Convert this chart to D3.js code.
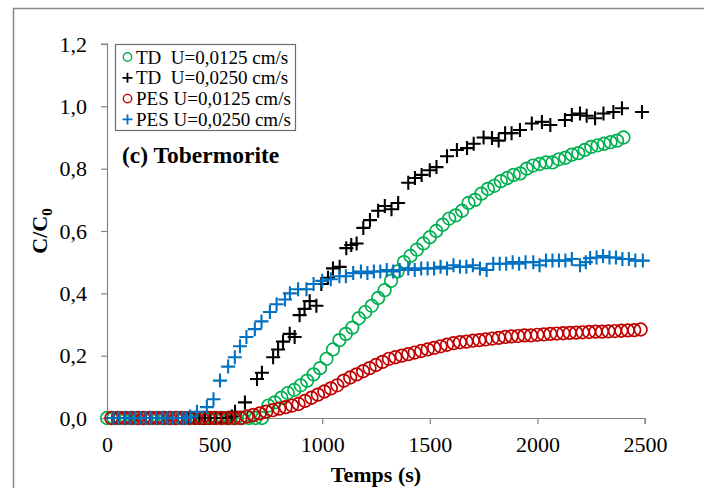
<!DOCTYPE html>
<html>
<head>
<meta charset="utf-8">
<script src="https://cdn.jsdelivr.net/npm/d3@7"></script>
<style>
  body { margin: 0; background: #fff; }
  svg text { font-family: "Liberation Serif", "Times New Roman", "DejaVu Serif", serif; fill: #000; }
</style>
</head>
<body>
<div id="chart"></div>
<script>
// TD U=0,0125 cm/s (green circles)
const tdSlowT = [0,30,60,90,120,150,180,210,240,270,300,330,360,390,420,450,480,510,540,570,600,630,660,690,720,
  750,780,810,840,870,900,930,960,990,1020,1050,1080,1110,1140,1170,1200,1230,1260,1290,1320,1350,1380,1410,1440,
  1470,1500,1530,1560,1590,1620,1650,1680,1710,1740,1770,1800,1830,1860,1890,1920,1950,1980,2010,2040,2070,2100,
  2130,2160,2190,2220,2250,2280,2310,2340,2370,2400];
const tdSlowC = [0,0,0,0,0,0,0,0,0,0,0,0,0,0,0,0,0,0,0,0,0,0,0,0,0,
  0.04,0.05,0.065,0.08,0.09,0.105,0.12,0.14,0.16,0.19,0.22,0.25,0.27,0.29,0.32,0.34,0.36,0.385,0.41,0.44,0.47,0.50,0.52,0.54,
  0.56,0.58,0.60,0.62,0.64,0.65,0.665,0.69,0.70,0.72,0.735,0.745,0.76,0.77,0.78,0.785,0.80,0.81,0.815,0.82,0.82,0.83,
  0.835,0.845,0.85,0.86,0.87,0.875,0.88,0.885,0.89,0.90];

// TD U=0,0250 cm/s (black crosses)
const tdFastT = [30,55,80,105,130,155,180,205,230,255,280,305,330,355,380,405,430,455,480,505,530,555,580,
  595,641,697,720,772,795,818,849,872,895,918,942,973,996,1027,1050,1081,1112,1135,1160,1191,1222,1260,1291,1322,1353,
  1400,1431,1462,1500,1531,1580,1626,1673,1704,1750,1789,1820,1850,1880,1919,1974,2021,2060,2128,2160,2198,2229,2268,
  2307,2353,2393,2486];
const tdFastC = [0,0,0,0,0,0,0,0,0,0,0,0,0,0,0,0,0,0,0,0,0,0,0.005,
  0.02,0.05,0.125,0.145,0.195,0.22,0.245,0.27,0.26,0.33,0.35,0.375,0.36,0.43,0.45,0.48,0.485,0.545,0.555,0.56,0.61,0.635,0.665,0.68,0.67,0.69,
  0.755,0.77,0.78,0.795,0.805,0.84,0.86,0.866,0.88,0.90,0.898,0.89,0.914,0.914,0.924,0.945,0.95,0.94,0.956,0.972,0.977,0.97,0.962,
  0.977,0.982,0.994,0.982];

// PES U=0,0125 cm/s (red circles)
const pesSlowT = [20,50,80,110,140,170,200,230,260,290,320,350,380,410,440,470,500,530,560,590,620,
  650,680,710,740,770,800,830,860,890,920,950,980,1010,1040,1070,1100,1130,1160,1190,1220,1250,1280,1310,1340,1370,
  1400,1430,1460,1490,1520,1550,1580,1610,1640,1670,1700,1730,1760,1790,1820,1850,1880,1910,1940,1970,2000,2030,2060,
  2090,2120,2150,2180,2210,2240,2270,2300,2330,2360,2390,2420,2450,2480];
const pesSlowC = [0,0,0,0,0,0,0,0,0,0,0,0,0,0,0,0,0,0,0,0,0,
  0.005,0.01,0.015,0.02,0.025,0.03,0.035,0.04,0.045,0.055,0.065,0.075,0.085,0.095,0.105,0.12,0.13,0.14,0.15,0.16,0.17,0.18,0.19,0.195,0.20,
  0.205,0.21,0.215,0.22,0.225,0.23,0.235,0.24,0.243,0.245,0.248,0.25,0.252,0.255,0.257,0.26,0.262,0.263,0.265,0.265,0.267,0.268,0.27,
  0.271,0.272,0.273,0.274,0.275,0.276,0.277,0.277,0.278,0.279,0.28,0.281,0.282,0.284];

// PES U=0,0250 cm/s (blue crosses)
const pesFastT = [30,55,80,105,130,155,180,205,230,255,280,305,330,355,370,
  386,418,464,495,525,563,594,618,648,687,718,757,788,827,850,888,927,960,1000,1040,1080,1110,1144,1180,1210,1240,
  1270,1300,1330,1360,1400,1430,1460,1490,1520,1550,1580,1610,1640,1670,1700,1733,1764,1795,1825,1855,1885,1915,1945,
  1981,2010,2040,2070,2100,2130,2160,2198,2225,2245,2275,2305,2335,2365,2395,2425,2455,2490];
const pesFastC = [0,0,0,0,0,0,0,0,0,0,0,0,0,0,0,
  0.005,0.02,0.035,0.06,0.12,0.165,0.195,0.23,0.26,0.285,0.31,0.34,0.365,0.38,0.40,0.413,0.413,0.43,0.44,0.445,0.455,0.455,0.465,0.47,0.465,0.47,
  0.47,0.475,0.47,0.475,0.48,0.475,0.48,0.48,0.48,0.485,0.48,0.49,0.485,0.485,0.49,0.48,0.475,0.495,0.495,0.495,0.50,0.495,0.50,
  0.50,0.49,0.505,0.505,0.505,0.505,0.51,0.49,0.50,0.513,0.515,0.52,0.515,0.515,0.51,0.51,0.505,0.505];

const seriesNames = ["TD  U=0,0125 cm/s", "TD  U=0,0250 cm/s", "PES U=0,0125 cm/s", "PES U=0,0250 cm/s"];
const seriesColors = ["#00b050", "#000000", "#c00000", "#0070c0"];
const seriesShapes = ["circle", "cross", "circle", "cross"];
const xTicks = [0, 500, 1000, 1500, 2000, 2500];
const yTicks = [0, 0.2, 0.4, 0.6, 0.8, 1.0, 1.2];

const series = [
  { t: tdSlowT, c: tdSlowC },
  { t: tdFastT, c: tdFastC },
  { t: pesSlowT, c: pesSlowC },
  { t: pesFastT, c: pesFastC }
].map((s, i) => ({
  name: seriesNames[i], color: seriesColors[i], shape: seriesShapes[i],
  points: s.t.map((t, j) => ({ t: t, c: s.c[j] }))
}));

const width = 704, height = 488;
const margin = { left: 107, right: 59, top: 44, bottom: 70 };
const serif = "Liberation Serif, Times New Roman, DejaVu Serif, serif";

const svg = d3.select("#chart").append("svg")
  .attr("width", width)
  .attr("height", height);

// outer frame (cut off at right and bottom)
svg.append("rect")
  .attr("x", 13.5).attr("y", 8.5)
  .attr("width", 720).attr("height", 520)
  .attr("fill", "none")
  .attr("stroke", "#878787")
  .attr("stroke-width", 1.5);

const x = d3.scaleLinear().domain([0, 2500]).range([margin.left, width - margin.right]);
const y = d3.scaleLinear().domain([0, 1.2]).range([height - margin.bottom, margin.top]);

const fmt = d => d3.format(".1f")(d).replace(".", ",");

const xAxis = svg.append("g")
  .attr("transform", `translate(0,${y(0)})`)
  .call(d3.axisBottom(x).tickValues(xTicks).tickSize(6).tickPadding(12).tickFormat(d3.format("d")));
const yAxis = svg.append("g")
  .attr("transform", `translate(${x(0)},0)`)
  .call(d3.axisLeft(y).tickValues(yTicks).tickSize(6).tickPadding(14).tickFormat(fmt));

[xAxis, yAxis].forEach(ax => {
  ax.select(".domain").attr("stroke", "#868686").attr("stroke-width", 1.2);
  ax.selectAll(".tick line").attr("stroke", "#868686").attr("stroke-width", 1.2);
  ax.selectAll(".tick text")
    .attr("font-family", serif)
    .attr("font-size", 22)
    .attr("fill", "#000");
});
xAxis.select(".domain").attr("d", `M${x(0)},0.5H${x(2500)}V6`);
yAxis.select(".domain").attr("d", `M-6,${y(1.2)}H0.5V${y(0)}`);

// axis titles
svg.append("text")
  .attr("x", (x(0) + x(2500)) / 2)
  .attr("y", 482)
  .attr("text-anchor", "middle")
  .attr("font-size", 22)
  .attr("font-weight", "bold")
  .text("Temps (s)");

const yTitle = svg.append("text")
  .attr("transform", `translate(47,${(y(0) + y(1.2)) / 2}) rotate(-90)`)
  .attr("text-anchor", "middle")
  .attr("font-size", 22)
  .attr("font-weight", "bold");
yTitle.append("tspan").text("C/C");
yTitle.append("tspan").attr("font-size", 15).attr("dy", 5).text("0");

// markers
const crossPath = r => `M${-r},0H${r}M0,${-r}V${r}`;

function drawMarker(g, shape, color, cx, cy, big) {
  if (shape === "circle") {
    g.append("circle")
      .attr("cx", cx).attr("cy", cy)
      .attr("r", big ? 6.3 : 4.2)
      .attr("fill", "none")
      .attr("stroke", color)
      .attr("stroke-width", big ? 1.7 : 1.4);
  } else {
    g.append("path")
      .attr("transform", `translate(${cx},${cy})`)
      .attr("d", crossPath(big ? 7 : 5))
      .attr("fill", "none")
      .attr("stroke", color)
      .attr("stroke-width", big ? 2.1 : 1.8);
  }
}

const plot = svg.append("g");
series.forEach(s => {
  const g = plot.append("g").attr("class", "series");
  s.points.forEach(p => drawMarker(g, s.shape, s.color, x(p.t), y(p.c), true));
});

// legend
const legend = svg.append("g");
legend.append("rect")
  .attr("x", 115.5).attr("y", 44.5)
  .attr("width", 180).attr("height", 86)
  .attr("fill", "#fff")
  .attr("stroke", "#6e6e6e")
  .attr("stroke-width", 1.2);

series.forEach((s, i) => {
  const cy = 57 + i * 20.8;
  drawMarker(legend, s.shape, s.color, 127.5, cy, false);
  legend.append("text")
    .attr("x", 136)
    .attr("y", cy + 6.5)
    .attr("font-size", 19)
    .attr("xml:space", "preserve")
    .style("white-space", "pre")
    .text(s.name);
});

// panel label
svg.append("text")
  .attr("x", 122)
  .attr("y", 163)
  .attr("font-size", 23.5)
  .attr("font-weight", "bold")
  .text("(c) Tobermorite");
</script>
</body>
</html>
